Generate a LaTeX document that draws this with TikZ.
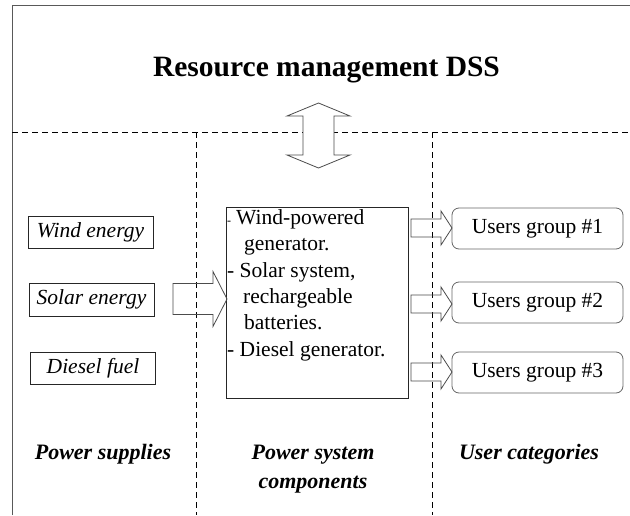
\documentclass[tikz,border=0pt]{standalone}
\usepackage{fontspec}
\setmainfont{Liberation Serif}
\newcommand\rblock[6]{% tail x, centre y, shaft-end x, tip x, shaft half, head half
  \draw[blockarrow] (#1,#2-#5) -- (#3,#2-#5) -- (#3,#2-#6) -- (#4,#2)
    -- (#3,#2+#6) -- (#3,#2+#5) -- (#1,#2+#5) -- cycle;}
\begin{document}
\begin{tikzpicture}[x=1pt,y=-1pt,
  frame/.style={draw=black!65, line width=0.8pt},
  sep/.style={draw=black, dash pattern=on 6pt off 4pt, line width=0.8pt},
  srcbox/.style={draw=black!85, line width=0.8pt, minimum width=125pt,
    inner sep=0pt, font=\fontsize{21.5}{24}\selectfont\itshape,
    text height=15pt, text depth=5pt},
  userbox/.style={draw=black!60, rounded corners=7pt, line width=0.8pt,
    minimum width=171pt, minimum height=41pt, inner sep=0pt,
    font=\fontsize{21.5}{24}\selectfont, text height=15pt, text depth=5pt},
  compbox/.style={draw=black!85, line width=0.8pt, inner sep=0pt},
  blockarrow/.style={draw=black!70, line width=0.8pt},
  colhead/.style={font=\fontsize{22}{29}\selectfont\bfseries\itshape,
    inner sep=0pt, anchor=base},
  compline/.style={font=\fontsize{21.5}{26}\selectfont, inner sep=0pt,
    anchor=base west},
  titlestyle/.style={font=\fontsize{29.5}{32}\selectfont\bfseries,
    inner sep=0pt, anchor=base}]
\useasboundingbox (0,0) rectangle (630,515);
\fill[white] (0,0) rectangle (630,515);

% frame and separators
\coordinate (fbl) at (12,515);
\coordinate (ftl) at (12,5);
\coordinate (ftr) at (630,5);
\draw[frame] (fbl) -- (ftl) -- (ftr);
\coordinate (hl) at (12,132);
\coordinate (hr) at (630,132);
\coordinate (v1t) at (196,132);
\coordinate (v1b) at (196,515);
\coordinate (v2t) at (432,132);
\coordinate (v2b) at (432,515);
\draw[sep] (hl) -- (hr);
\draw[sep] (v1t) -- (v1b);
\draw[sep] (v2t) -- (v2b);

% title
\node[titlestyle] (title) at (326.5,76) {Resource management DSS};

% double arrow
\draw[blockarrow, fill=white] (318.5,103) -- (350,116) -- (334,116) -- (334,155)
  -- (350,155) -- (318.5,168) -- (287,155) -- (303,155) -- (303,116)
  -- (287,116) -- cycle;

% power supplies
\node[srcbox, minimum height=32pt] (wind) at (90.5,232) {Wind energy};
\node[srcbox, minimum height=33pt] (solar) at (91.5,299.5) {Solar energy};
\node[srcbox, minimum height=32pt] (diesel) at (93,368) {Diesel fuel};

% component box
\node[compbox, minimum width=182pt, minimum height=191pt] (comp) at (317,302.5) {};
\node[compline] (c1) at (227,224) {{\fontsize{12}{12}\selectfont -}\hspace{5pt}Wind-powered};
\node[compline] (c2) at (244,250) {generator.};
\node[compline] (c3) at (227,277) {- Solar system,};
\node[compline] (c4) at (243,303) {rechargeable};
\node[compline] (c5) at (244,329) {batteries.};
\node[compline] (c6) at (227,356) {- Diesel generator.};

% users
\node[userbox] (u1) at (537.5,228.5) {Users group \#1};
\node[userbox] (u2) at (537.5,302.5) {Users group \#2};
\node[userbox] (u3) at (537.5,372.5) {Users group \#3};

% block arrows
\rblock{173}{299}{213}{227}{15.5}{27.5}
\rblock{411}{228}{441}{452}{9}{17}
\rblock{411}{304}{441}{452}{9}{17}
\rblock{411}{372}{441}{452}{9}{17}

% column headings
\node[colhead] (h1) at (103,459) {Power supplies};
\node[colhead] (h2) at (313,459) {Power system};
\node[colhead] (h2b) at (313,488) {components};
\node[colhead] (h3) at (529,459) {User categories};
\end{tikzpicture}
\end{document}
